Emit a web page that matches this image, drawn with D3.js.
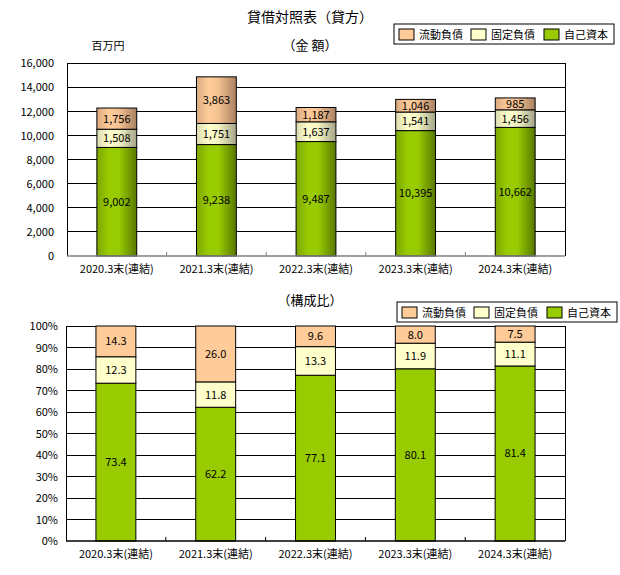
<!DOCTYPE html>
<html><head><meta charset="utf-8">
<script src="https://cdn.jsdelivr.net/npm/d3@7"></script>
<style>
body{margin:0;background:#fff;}
svg text{font-family:"Noto Sans CJK JP","DejaVu Sans",sans-serif;fill:#000;}
</style></head>
<body><svg id="c" width="620" height="575"></svg>
<script>
const categories = ["2020.3末(連結)","2021.3末(連結)","2022.3末(連結)","2023.3末(連結)","2024.3末(連結)"];
const seriesNames = ["自己資本","固定負債","流動負債"];
const equityAmt = [9002, 9238, 9487, 10395, 10662];
const fixedAmt = [1508, 1751, 1637, 1541, 1456];
const currentAmt = [1756, 3863, 1187, 1046, 985];
const equityPct = [73.4, 62.2, 77.1, 80.1, 81.4];
const fixedPct = [12.3, 11.8, 13.3, 11.9, 11.1];
const currentPct = [14.3, 26.0, 9.6, 8.0, 7.5];
const amtTicks = [0,2000,4000,6000,8000,10000,12000,14000,16000];
const pctTicks = [0,10,20,30,40,50,60,70,80,90,100];

const svg = d3.select("#c");
const defs = svg.append("defs");
function grad(id, stops){
  const g = defs.append("linearGradient").attr("id",id).attr("x1","0%").attr("x2","100%").attr("y1","0").attr("y2","0");
  stops.forEach(s=>g.append("stop").attr("offset",s[0]).attr("stop-color",s[1]));
}
grad("gG",[["0%","#7da600"],["30%","#99cc00"],["55%","#99cc00"],["100%","#587800"]]);
grad("gY",[["0%","#d9d9b0"],["30%","#ffffcc"],["55%","#f4f4c4"],["100%","#a4a488"]]);
grad("gO",[["0%","#d9a980"],["30%","#ffcc99"],["55%","#f4c292"],["100%","#a88060"]]);

const flatCol = {"自己資本":"#99cc00","固定負債":"#ffffcc","流動負債":"#ffcc99"};
const gradCol = {"自己資本":"url(#gG)","固定負債":"url(#gY)","流動負債":"url(#gO)"};
const legendOrder = ["流動負債","固定負債","自己資本"];

svg.append("text").attr("x",310).attr("y",22).attr("text-anchor","middle").style("font-size","14px").text("貸借対照表（貸方）");

function drawChart(opt){
  const {top,bottom,left,right,max,ticks,series,colors,fmt,tickFmt,labelX,axisColor,subtitle,subY,legendY,unit} = opt;
  const g = svg.append("g");
  const x = d3.scaleBand().domain(categories).range([left,right]).paddingInner(0.6).paddingOuter(0.3);
  const y = d3.scaleLinear().domain([0,max]).range([bottom,top]);
  // gridlines
  g.selectAll(".grid").data(ticks.slice(1)).join("line")
    .attr("x1",left).attr("x2",right).attr("y1",d=>y(d)).attr("y2",d=>y(d))
    .attr("stroke","#000").attr("stroke-width",1).attr("shape-rendering","crispEdges");
  g.append("line").attr("x1",left).attr("x2",left).attr("y1",top).attr("y2",bottom).attr("stroke","#000").attr("shape-rendering","crispEdges");
  g.append("line").attr("x1",right).attr("x2",right).attr("y1",top).attr("y2",bottom).attr("stroke","#000").attr("shape-rendering","crispEdges");
  // y axis labels
  const yAxis = d3.axisLeft(y).tickValues(ticks).tickFormat(tickFmt).tickSize(0).tickPadding(0);
  const ya = g.append("g").attr("transform",`translate(${labelX},0)`).call(yAxis);
  ya.select(".domain").remove();
  ya.selectAll("text").style("font-size","11px").style("font-family","'Noto Sans CJK JP',sans-serif").attr("dy","0.35em");
  // stacked bars
  const data = categories.map((c,i)=>{const o={cat:c}; series.forEach(s=>o[s.name]=s.values[i]); return o;});
  const stack = d3.stack().keys(series.map(s=>s.name))(data);
  stack.forEach(layer=>{
    const key = layer.key;
    g.selectAll(null).data(layer).join("rect")
      .attr("x",d=>x(d.data.cat)).attr("width",x.bandwidth())
      .attr("y",d=>y(d[1])).attr("height",d=>y(d[0])-y(d[1]))
      .attr("fill",colors[key]).attr("stroke","#000").attr("stroke-width",1);
    g.selectAll(null).data(layer).join("text")
      .attr("x",d=>x(d.data.cat)+x.bandwidth()/2).attr("y",d=>(y(d[0])+y(d[1]))/2)
      .attr("text-anchor","middle").attr("dy","0.36em").style("font-size","11px")
      .text(d=>fmt(d.data[key]));
  });
  // x axis
  const xa = g.append("g").attr("transform",`translate(0,${bottom})`);
  xa.append("line").attr("x1",left).attr("x2",right).attr("stroke",axisColor).attr("stroke-width",1.5);
  const step = x.step();
  xa.selectAll(".tk").data(d3.range(1,categories.length)).join("line")
    .attr("x1",i=>left+i*(right-left)/categories.length).attr("x2",i=>left+i*(right-left)/categories.length)
    .attr("y1",0).attr("y2",-4).attr("stroke",axisColor);
  xa.selectAll(".lb").data(categories).join("text")
    .attr("x",d=>x(d)+x.bandwidth()/2).attr("y",17).attr("text-anchor","middle").style("font-size","11px").text(d=>d);
  // subtitle
  svg.append("text").attr("x",310).attr("y",subY).attr("text-anchor","middle").style("font-size","13px").text(subtitle);
  if(unit){ svg.append("text").attr("x",108).attr("y",unit).attr("text-anchor","middle").style("font-size","11px").text("百万円"); }
  // legend
  const lg = svg.append("g").attr("transform",`translate(${opt.legendX},${legendY})`);
  lg.append("rect").attr("x",0).attr("y",0).attr("width",220).attr("height",20).attr("fill","#fff").attr("stroke","#000");
  const lx = [5,77,150];
  legendOrder.forEach((k,i)=>{
    lg.append("rect").attr("x",lx[i]).attr("y",5).attr("width",15).attr("height",11).attr("fill",flatCol[k]).attr("stroke","#000");
    lg.append("text").attr("x",lx[i]+20).attr("y",14.5).style("font-size","11px").text(k);
  });
}

drawChart({top:63,bottom:256,left:67,right:565,max:16000,ticks:amtTicks,
  series:[{name:"自己資本",values:equityAmt},{name:"固定負債",values:fixedAmt},{name:"流動負債",values:currentAmt}],
  colors:gradCol,fmt:d3.format(","),tickFmt:d3.format(","),labelX:54,axisColor:"#808080",
  subtitle:"（金 額）",subY:50,legendY:24,legendX:394,unit:50});

drawChart({top:326,bottom:541,left:66,right:565,max:100,ticks:pctTicks,
  series:[{name:"自己資本",values:equityPct},{name:"固定負債",values:fixedPct},{name:"流動負債",values:currentPct}],
  colors:flatCol,fmt:d3.format(".1f"),tickFmt:d=>d+"%",labelX:58,axisColor:"#000",
  subtitle:"（構成比）",subY:305,legendY:302,legendX:397,unit:null});
</script></body></html>
